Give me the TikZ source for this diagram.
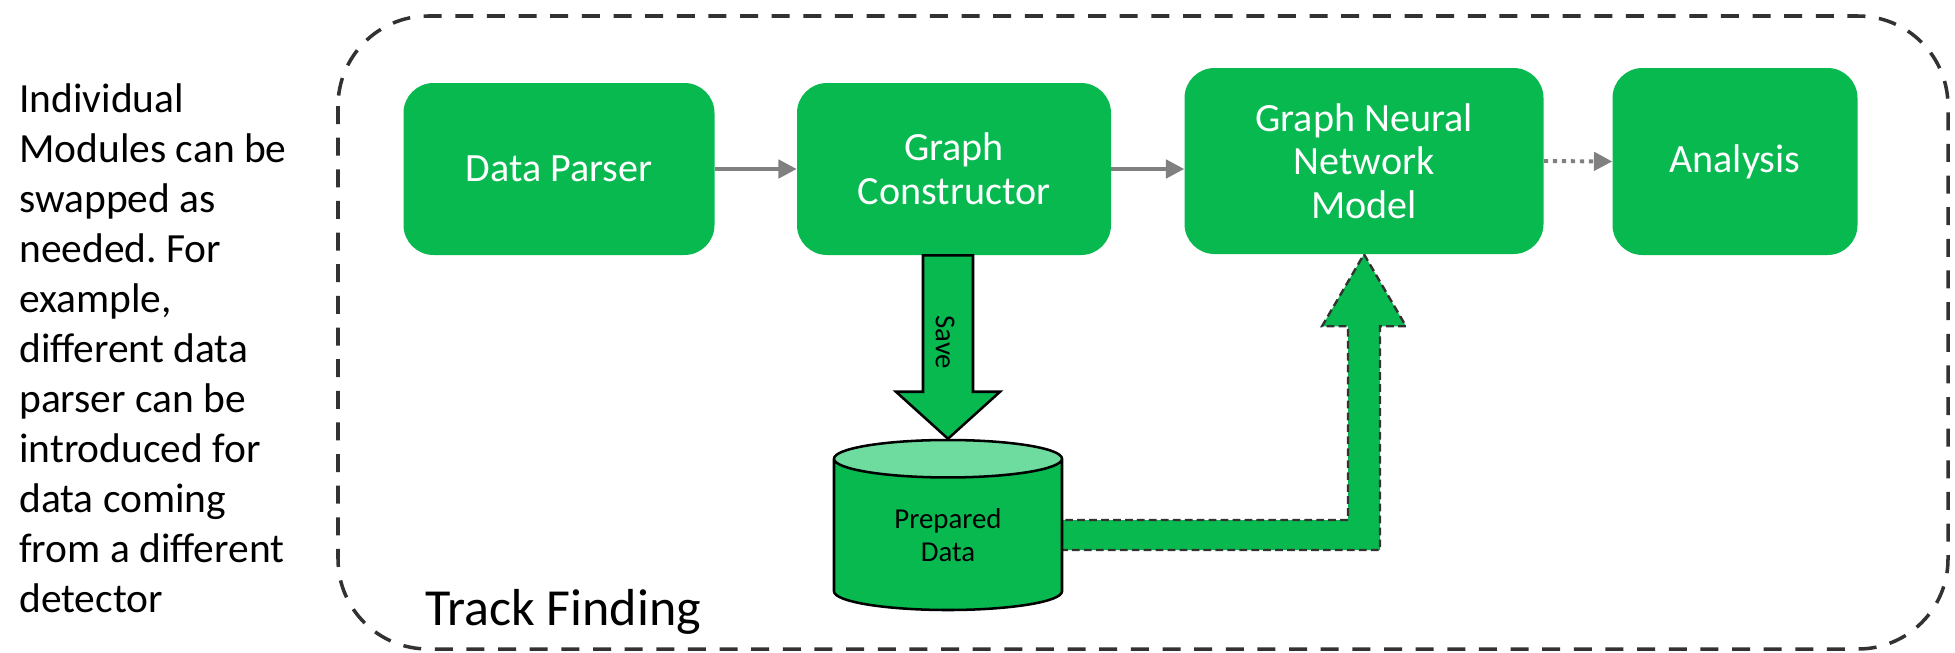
\documentclass[tikz,border=0pt]{standalone}
\usepackage{fontspec}
\setmainfont{Carlito}
\frenchspacing
\usetikzlibrary{arrows.meta,calc,shapes.geometric,backgrounds}
\definecolor{ModGreen}{RGB}{8,185,80}
\definecolor{ModLight}{RGB}{110,220,158}
\definecolor{FlowGray}{RGB}{128,128,128}
\definecolor{FrameGray}{RGB}{50,50,50}
\newcommand{\pxl}{0.025cm}
\tikzset{
    % --- --- --- boxes
    module/.style={fill=ModGreen, rounded corners=0.75cm, text=white, align=center,
        inner sep=0pt, font=\fontsize{28.5}{31}\selectfont},
    note/.style={align=left, inner sep=0pt, font=\fontsize{29.5}{35.6}\selectfont},
    store/.style={cylinder, shape border rotate=90, aspect=0.35, draw=black, line width=1.8pt,
        cylinder uses custom fill, cylinder body fill=ModGreen, cylinder end fill=ModLight,
        minimum width=228*\pxl, minimum height=170*\pxl, inner sep=0pt, align=center,
        font=\fontsize{20.5}{24}\selectfont},
    % --- --- --- connectors
    flow/.style={draw=FlowGray, line width=2.8pt, -{Triangle[length=13pt,width=13pt]}},
    flowdot/.style={flow, dash pattern=on 3pt off 3.4pt},
    savearrow/.style={fill=ModGreen, draw=black, line width=1.8pt, line join=miter},
    loadarrow/.style={fill=ModGreen, draw=black!80, line width=1.7pt, dash pattern=on 5.5pt off 3pt},
    frame/.style={draw=FrameGray, line width=2.5pt, dash pattern=on 12.8pt off 9.7pt, rounded corners=2.25cm},
}
\begin{document}
\begin{tikzpicture}[x=\pxl, y=-\pxl]
    \useasboundingbox (0,0) rectangle (1955,652);    % Freeze the bounding box
    %
    \draw[frame] (338,16) rectangle (1948,649);
    \node[font=\fontsize{37}{40}\selectfont, anchor=base west, inner sep=0pt] (title) at (425,625) {Track Finding};
    \node[note, anchor=north west] (note) at (19,83) {Individual\\Modules can be\\swapped as\\needed. For\\example,\\different data\\parser can be\\introduced for\\data coming\\from a different\\detector};
    % --- --- --- modules
    \node[module, minimum width=311*\pxl, minimum height=172*\pxl] (parser) at (559,169) {Data Parser};
    \node[module, minimum width=314*\pxl, minimum height=172*\pxl] (constr) at (954,169) {Graph\\Constructor};
    \node[module, minimum width=359*\pxl, minimum height=186*\pxl] (gnn) at (1364,161) {Graph Neural\\Network\\Model};
    \node[module, minimum width=245*\pxl, minimum height=187*\pxl] (analysis) at (1735,161.5) {Analysis};
    \node[store] (db) at (948,535) {Prepared\\Data};
    %
    \draw[flow] (parser) -- (constr);
    \draw[flow] (constr.east) -- (constr.east -| gnn.west);
    \draw[flowdot] (gnn.east) -- (analysis.west);
    % === === === block arrows
    \draw[savearrow] ($(constr.south -| db.north)+(-25,0)$) -- ($(db.north)+(-25,-47)$) -- ($(db.north)+(-52,-47)$)
        -- (db.north) -- ($(db.north)+(52,-47)$) -- ($(db.north)+(25,-47)$) -- ($(constr.south -| db.north)+(25,0)$) -- cycle;
    \node[rotate=-90, inner sep=0pt, font=\fontsize{20.5}{24}\selectfont] (save) at ($(constr.south -| db.north)+(-3,87)$) {Save};
    \begin{scope}[on background layer]
        \coordinate (bend) at (gnn.south |- db.east);
        \draw[loadarrow] ($(db.east)+(-10,-15)$) -- ($(bend)+(-16,-15)$) -- ($(gnn.south)+(-16,72)$) -- ($(gnn.south)+(-42,72)$)
            -- (gnn.south) -- ($(gnn.south)+(42,72)$) -- ($(gnn.south)+(16,72)$) -- ($(bend)+(16,15)$) -- ($(db.east)+(-10,15)$) -- cycle;
    \end{scope}
\end{tikzpicture}
\end{document}
